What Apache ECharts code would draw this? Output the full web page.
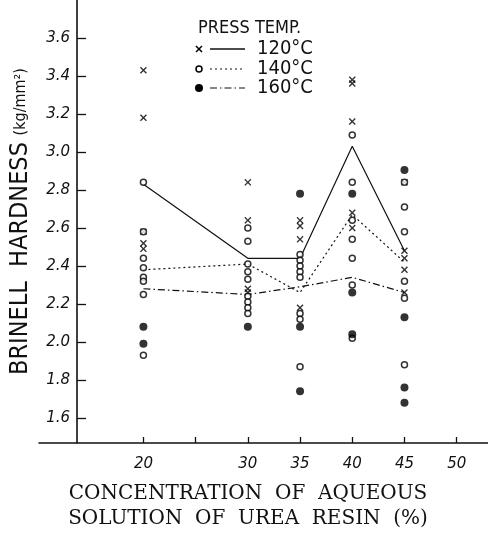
<!DOCTYPE html>
<html>
<head>
<meta charset="utf-8">
<script src="https://cdn.jsdelivr.net/npm/echarts@6/dist/echarts.min.js"></script>
<style>html,body{margin:0;padding:0;background:#fff;}#c{width:488px;height:536px;}</style>
</head>
<body>
<div id="c"></div>
<script>
// Tick labels
const xTickValues = [20, 25, 30, 35, 40, 45, 50];
const xLabelValues = [20, 30, 35, 40, 45, 50];
const yTickValues = [1.6, 1.8, 2.0, 2.2, 2.4, 2.6, 2.8, 3.0, 3.2, 3.4, 3.6];

// Concentrations for mean lines
const concentrations = [20, 30, 35, 40, 45];
// Mean lines per press temperature
const mean120 = [2.83, 2.44, 2.44, 3.03, 2.48];
const mean140 = [2.38, 2.41, 2.26, 2.67, 2.42];
const mean160 = [2.28, 2.25, 2.29, 2.34, 2.26];

// Individual measurements [concentration, hardness]
const pts120 = [[20,3.43],[20,3.18],[20,2.58],[20,2.52],[20,2.49],
  [30,2.84],[30,2.64],[30,2.28],[30,2.26],
  [35,2.64],[35,2.61],[35,2.54],[35,2.18],
  [40,3.38],[40,3.36],[40,3.16],[40,2.68],[40,2.60],
  [45,2.84],[45,2.48],[45,2.44],[45,2.38],[45,2.26]];
const pts140 = [[20,2.84],[20,2.58],[20,2.44],[20,2.39],[20,2.34],[20,2.32],[20,2.25],[20,1.93],
  [30,2.60],[30,2.53],[30,2.41],[30,2.37],[30,2.33],[30,2.24],[30,2.21],[30,2.18],[30,2.15],
  [35,2.46],[35,2.43],[35,2.40],[35,2.37],[35,2.34],[35,2.15],[35,2.12],[35,1.87],
  [40,3.09],[40,2.84],[40,2.64],[40,2.54],[40,2.44],[40,2.30],[40,2.02],
  [45,2.84],[45,2.71],[45,2.58],[45,2.32],[45,2.23],[45,1.88]];
const pts160 = [[20,2.08],[20,1.99],[30,2.08],[35,2.78],[35,2.08],[35,1.74],
  [40,2.78],[40,2.26],[40,2.04],[45,2.905],[45,2.13],[45,1.76],[45,1.68]];

const crossPath = 'path://M0,1.4L1.4,0L5,3.6L8.6,0L10,1.4L6.4,5L10,8.6L8.6,10L5,6.4L1.4,10L0,8.6L3.6,5Z';
const pair = (xs, ys) => xs.map((x, i) => [x, ys[i]]);

const chart = echarts.init(document.getElementById('c'));
const labelFont = {color: '#111', fontSize: 15, fontStyle: 'italic', fontFamily: 'DejaVu Sans'};

chart.setOption({
  animation: false,
  grid: {left: 39, right: 0, top: 0, bottom: 93, outerBoundsMode: 'none', containLabel: false},
  xAxis: {
    type: 'value', min: 10, max: 53, interval: 5,
    axisLine: {lineStyle: {color: '#111', width: 1.6}},
    axisTick: {inside: true, length: 6, lineStyle: {color: '#111', width: 1.3}, customValues: xTickValues},
    axisLabel: Object.assign({margin: 14, customValues: xLabelValues, formatter: v => String(v)}, labelFont),
    splitLine: {show: false}
  },
  yAxis: {
    type: 'value', min: 1.468, max: 3.8, offset: -38,
    axisLine: {show: true, lineStyle: {color: '#111', width: 1.6}},
    axisTick: {show: true, inside: true, length: 9, lineStyle: {color: '#111', width: 1.3}, customValues: yTickValues},
    axisLabel: Object.assign({margin: 7, customValues: yTickValues, formatter: v => v.toFixed(1)}, labelFont),
    splitLine: {show: false},
    name: '{a|BRINELL  HARDNESS}  {b|(kg/mm²)}',
    nameLocation: 'middle', nameRotate: 90, nameGap: 44,
    nameTextStyle: {rich: {
      a: {fontSize: 25, fontFamily: 'DejaVu Sans Condensed', color: '#111'},
      b: {fontSize: 16, fontFamily: 'DejaVu Sans Condensed', color: '#111'}
    }}
  },
  series: [
    {type: 'line', data: pair(concentrations, mean120), symbol: 'none', z: 2,
     lineStyle: {color: '#111', width: 1.2, type: 'solid'}},
    {type: 'line', data: pair(concentrations, mean140), symbol: 'none', z: 2,
     lineStyle: {color: '#111', width: 1.2, type: [2, 3]}},
    {type: 'line', data: pair(concentrations, mean160), symbol: 'none', z: 2,
     lineStyle: {color: '#111', width: 1.2, type: [7, 3, 1.5, 3]}},
    {type: 'scatter', data: pts120, symbol: crossPath, symbolSize: 7, z: 4,
     itemStyle: {color: '#000'}},
    {type: 'scatter', data: pts140, symbol: 'circle', symbolSize: 6, z: 4,
     itemStyle: {color: '#fff', borderColor: '#000', borderWidth: 1.5}},
    {type: 'scatter', data: pts160, symbol: 'circle', symbolSize: 8, z: 4,
     itemStyle: {color: '#000'}}
  ],
  graphic: [
    {type: 'text', x: 198, y: 19, style: {text: 'PRESS TEMP.', fontSize: 18, fontFamily: 'DejaVu Sans Condensed', fill: '#111'}},
    {type: 'line', shape: {x1: 196, y1: 46, x2: 202, y2: 52}, style: {stroke: '#000', lineWidth: 1.5}},
    {type: 'line', shape: {x1: 202, y1: 46, x2: 196, y2: 52}, style: {stroke: '#000', lineWidth: 1.5}},
    {type: 'line', shape: {x1: 210, y1: 49, x2: 245, y2: 49}, style: {stroke: '#111', lineWidth: 1.3}},
    {type: 'text', x: 257, y: 39, style: {text: '120°C', fontSize: 20, fontFamily: 'DejaVu Sans Condensed', fill: '#111'}},
    {type: 'circle', shape: {cx: 199, cy: 69, r: 3}, style: {fill: '#fff', stroke: '#000', lineWidth: 1.5}},
    {type: 'line', shape: {x1: 210, y1: 69, x2: 245, y2: 69}, style: {stroke: '#111', lineWidth: 1.2, lineDash: [2, 3]}},
    {type: 'text', x: 257, y: 59, style: {text: '140°C', fontSize: 20, fontFamily: 'DejaVu Sans Condensed', fill: '#111'}},
    {type: 'circle', shape: {cx: 199, cy: 88, r: 4}, style: {fill: '#000'}},
    {type: 'line', shape: {x1: 210, y1: 88, x2: 245, y2: 88}, style: {stroke: '#111', lineWidth: 1.2, lineDash: [7, 3, 1.5, 3]}},
    {type: 'text', x: 257, y: 78, style: {text: '160°C', fontSize: 20, fontFamily: 'DejaVu Sans Condensed', fill: '#111'}},
    {type: 'text', x: 248, y: 481, style: {text: 'CONCENTRATION  OF  AQUEOUS\nSOLUTION  OF  UREA  RESIN  (%)', fontSize: 20, lineHeight: 25, fontFamily: 'DejaVu Serif', fill: '#111', align: 'center', verticalAlign: 'top'}}
  ]
});
</script>
</body>
</html>
